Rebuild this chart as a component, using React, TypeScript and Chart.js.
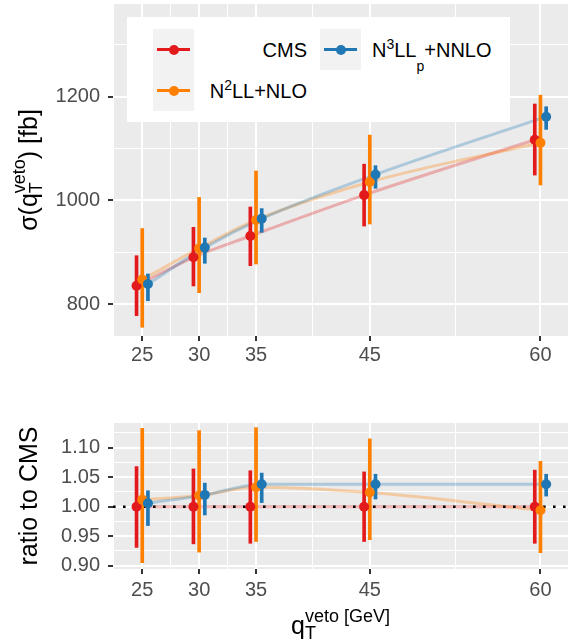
import React, { useEffect, useRef } from 'react';
import { Chart, registerables } from 'chart.js';

Chart.register(...registerables);

const FONT = "'Liberation Sans', Arimo, Arial, Helvetica, sans-serif";
Chart.defaults.font.family = FONT;

// ---------- data ----------
const qTveto = [25, 30, 35, 45, 60];
const xMajorTicks = [25, 30, 35, 45, 60];
const xMinorTicks = [22.5, 27.5, 32.5, 40, 52.5];
const xLimits = [22.43, 62.42];

const sigmaMajorTicks = [800, 1000, 1200];
const sigmaMinorTicks = [900, 1100, 1300];
const sigmaLimits = [738.9, 1378.6];

const ratioMajorTicks = [0.9, 0.95, 1.0, 1.05, 1.1];
const ratioMinorTicks = [0.925, 0.975, 1.025, 1.075, 1.125];
const ratioLimits = [0.8944, 1.1419];
const ratioReference = 1.0;

const seriesNames = ['CMS', 'N2LL+NLO', 'N3LLp+NNLO'];
const seriesColors = ['#E31A1C', '#FF7F00', '#1F78B4'];
const seriesLineColors = ['rgba(227,26,28,0.3)', 'rgba(255,127,0,0.3)', 'rgba(31,120,180,0.3)'];
const seriesDodge = [-0.5, 0, 0.5];

// cross sections [fb]
const cmsSigma = [835.8, 890.5, 931.6, 1010.4, 1117.0];
const cmsSigmaLo = [778.0, 835.3, 874.4, 950.7, 1049.0];
const cmsSigmaHi = [893.6, 948.3, 987.5, 1070.0, 1185.9];
const n2llSigma = [847.6, 907.7, 962.4, 1035.6, 1111.4];
const n2llSigmaLo = [755.7, 822.4, 877.6, 954.7, 1029.9];
const n2llSigmaHi = [946.0, 1006.0, 1056.8, 1126.0, 1203.0];
const n3llSigma = [839.0, 909.2, 965.0, 1050.0, 1161.5];
const n3llSigmaLo = [807.0, 879.0, 938.7, 1023.5, 1137.0];
const n3llSigmaHi = [858.4, 927.7, 984.4, 1067.0, 1180.7];

// ratios to CMS
const cmsRatio = [1.0, 1.0, 1.0, 1.0, 1.0];
const cmsRatioLo = [0.931, 0.937, 0.938, 0.941, 0.938];
const cmsRatioHi = [1.068, 1.064, 1.061, 1.059, 1.062];
const n2llRatio = [1.012, 1.019, 1.033, 1.024, 0.994];
const n2llRatioLo = [0.905, 0.923, 0.941, 0.944, 0.922];
const n2llRatioHi = [1.133, 1.129, 1.134, 1.115, 1.077];
const n3llRatio = [1.006, 1.02, 1.038, 1.038, 1.038];
const n3llRatioLo = [0.968, 0.986, 1.007, 1.013, 1.018];
const n3llRatioHi = [1.027, 1.04, 1.057, 1.055, 1.055];

// ---------- helpers ----------
const isIn = (arr: number[], v: number) => arr.some((a) => Math.abs(a - v) < 1e-9);

function buildDatasets(central: number[][], lower: number[][], upper: number[][], refFlag: boolean) {
  const ds: any[] = [];
  central.forEach((vals, s) => {
    ds.push({
      type: 'line',
      label: seriesNames[s] + ' line',
      data: qTveto.map((q, i) => ({ x: q + seriesDodge[s], y: vals[i] })),
      borderColor: seriesLineColors[s],
      borderWidth: 3,
      pointRadius: 0,
      fill: false,
      cubicInterpolationMode: 'monotone',
      order: 30 - s,
      refLineAfter: refFlag && s === central.length - 1,
    });
    ds.push({
      type: 'bar',
      label: seriesNames[s] + ' err',
      data: qTveto.map((q, i) => ({ x: q + seriesDodge[s], y: [lower[s][i], upper[s][i]] })),
      backgroundColor: seriesColors[s],
      borderWidth: 0,
      barThickness: 3,
      grouped: false,
      order: 20 - s,
    });
    ds.push({
      type: 'scatter',
      label: seriesNames[s],
      data: qTveto.map((q, i) => ({ x: q + seriesDodge[s], y: vals[i] })),
      pointRadius: 5,
      pointBackgroundColor: seriesColors[s],
      pointBorderWidth: 0,
      showLine: false,
      order: 10 - s,
    });
  });
  return ds;
}

function makeOptions(
  yLimits: number[],
  yMajor: number[],
  yMinor: number[],
  fmt: (v: number) => string,
  padTop: number,
  xAxisHeight: number,
  xLabelPad: number
) {
  const majorX = (c: any) => (c && c.tick ? isIn(xMajorTicks, c.tick.value) : true);
  const majorY = (c: any) => (c && c.tick ? isIn(yMajor, c.tick.value) : true);
  return {
    responsive: false,
    animation: false,
    events: [],
    layout: { autoPadding: false, padding: { top: padTop, left: 0, right: 0, bottom: 0 } },
    plugins: { legend: { display: false }, tooltip: { enabled: false } },
    scales: {
      x: {
        type: 'linear',
        min: xLimits[0],
        max: xLimits[1],
        offset: false,
        afterBuildTicks: (s: any) => {
          s.ticks = [...xMinorTicks, ...xMajorTicks].sort((a, b) => a - b).map((v) => ({ value: v }));
        },
        afterFit: (s: any) => {
          s.height = xAxisHeight;
          s.paddingLeft = 0;
          s.paddingRight = 0;
          s.paddingTop = 0;
          s.paddingBottom = 0;
        },
        ticks: {
          autoSkip: false,
          maxRotation: 0,
          minRotation: 0,
          padding: xLabelPad,
          color: '#4D4D4D',
          font: { family: FONT, size: 20 },
          callback: (v: number) => (isIn(xMajorTicks, v) ? String(v) : ''),
        },
        grid: {
          offset: false,
          color: '#FFFFFF',
          lineWidth: (c: any) => (majorX(c) ? 2 : 1),
          drawTicks: true,
          tickLength: 5,
          tickColor: (c: any) => (majorX(c) ? '#333333' : 'rgba(0,0,0,0)'),
          tickWidth: 2,
        },
        border: { display: false },
      },
      y: {
        type: 'linear',
        min: yLimits[0],
        max: yLimits[1],
        beginAtZero: false,
        afterBuildTicks: (s: any) => {
          s.ticks = [...yMinor, ...yMajor].sort((a, b) => a - b).map((v) => ({ value: v }));
        },
        afterFit: (s: any) => {
          s.width = 113;
          s.paddingLeft = 0;
          s.paddingRight = 0;
          s.paddingTop = 0;
          s.paddingBottom = 0;
        },
        ticks: {
          autoSkip: false,
          padding: 8,
          color: '#4D4D4D',
          font: { family: FONT, size: 20 },
          callback: (v: number) => (isIn(yMajor, v) ? fmt(v) : ''),
        },
        grid: {
          color: '#FFFFFF',
          lineWidth: (c: any) => (majorY(c) ? 2 : 1),
          drawTicks: true,
          tickLength: 5,
          tickColor: (c: any) => (majorY(c) ? '#333333' : 'rgba(0,0,0,0)'),
          tickWidth: 2,
        },
        border: { display: false },
      },
    },
  };
}

const panelBgPlugin = {
  id: 'panelBg',
  beforeDraw(chart: any) {
    const { ctx, chartArea } = chart;
    ctx.save();
    ctx.fillStyle = '#EBEBEB';
    ctx.fillRect(chartArea.left, chartArea.top, chartArea.right - chartArea.left, chartArea.bottom - chartArea.top);
    ctx.restore();
  },
};

const refLinePlugin = {
  id: 'refLine',
  afterDatasetDraw(chart: any, args: any) {
    const ds = chart.data.datasets[args.index];
    if (!ds || !ds.refLineAfter) return;
    const { ctx, chartArea } = chart;
    const y = chart.scales.y.getPixelForValue(ratioReference);
    ctx.save();
    ctx.strokeStyle = '#000000';
    ctx.lineWidth = 2.6;
    ctx.setLineDash([2.6, 7.4]);
    ctx.beginPath();
    ctx.moveTo(chartArea.left, y);
    ctx.lineTo(chartArea.right, y);
    ctx.stroke();
    ctx.restore();
  },
};

function PanelChart(props: { top: number; width: number; height: number; datasets: any[]; options: any; plugins: any[] }) {
  const ref = useRef<HTMLCanvasElement>(null);
  useEffect(() => {
    const chart = new Chart(ref.current as HTMLCanvasElement, {
      type: 'scatter',
      data: { datasets: props.datasets },
      options: props.options,
      plugins: props.plugins,
    } as any);
    return () => chart.destroy();
  }, []);
  return (
    <canvas
      ref={ref}
      width={props.width}
      height={props.height}
      style={{ position: 'absolute', left: 0, top: props.top, width: props.width, height: props.height }}
    />
  );
}

function Stack(props: { sup: string; sub: string; size: number; gap: number; raise: number }) {
  return (
    <span
      style={{
        display: 'inline-flex',
        flexDirection: 'column',
        alignItems: 'flex-start',
        fontSize: props.size,
        lineHeight: props.gap + 'px',
        position: 'relative',
        top: -props.raise,
        verticalAlign: 'baseline',
        whiteSpace: 'pre',
      }}
    >
      <span>{props.sup}</span>
      <span>{props.sub}</span>
    </span>
  );
}

function RotatedTitle(props: { baselineX: number; centerY: number; children: any }) {
  const W = 300;
  const baseFromTop = 21.16;
  return (
    <div
      style={{
        position: 'absolute',
        left: 0,
        top: 0,
        width: W,
        textAlign: 'center',
        fontFamily: FONT,
        fontSize: 25,
        lineHeight: '25px',
        color: '#000',
        whiteSpace: 'pre',
        transformOrigin: '0 0',
        transform: `translate(${props.baselineX - baseFromTop}px, ${props.centerY + W / 2}px) rotate(-90deg)`,
      }}
    >
      {props.children}
    </div>
  );
}

function LegendKey(props: { left: number; top: number; color: string }) {
  return (
    <div style={{ position: 'absolute', left: props.left, top: props.top, width: 41, height: 41, background: '#F2F2F2' }}>
      <div style={{ position: 'absolute', left: 4, top: 19, width: 33, height: 3, background: props.color }} />
      <div
        style={{ position: 'absolute', left: 15.5, top: 15.5, width: 10, height: 10, borderRadius: '50%', background: props.color }}
      />
    </div>
  );
}

const legendText: any = {
  position: 'absolute',
  fontFamily: FONT,
  fontSize: 20,
  lineHeight: '20px',
  color: '#000',
  whiteSpace: 'pre',
};
const supStyle: any = { fontSize: 14, lineHeight: 0, position: 'relative', top: -8 };
const subStyle: any = { fontSize: 14, lineHeight: 0, position: 'relative', top: 14 };

export default function App() {
  const topDatasets = buildDatasets(
    [cmsSigma, n2llSigma, n3llSigma],
    [cmsSigmaLo, n2llSigmaLo, n3llSigmaLo],
    [cmsSigmaHi, n2llSigmaHi, n3llSigmaHi],
    false
  );
  const bottomDatasets = buildDatasets(
    [cmsRatio, n2llRatio, n3llRatio],
    [cmsRatioLo, n2llRatioLo, n3llRatioLo],
    [cmsRatioHi, n2llRatioHi, n3llRatioHi],
    true
  );
  const topOptions = makeOptions(sigmaLimits, sigmaMajorTicks, sigmaMinorTicks, (v) => String(v), 4, 39, 2);
  const bottomOptions = makeOptions(ratioLimits, ratioMajorTicks, ratioMinorTicks, (v) => v.toFixed(2), 42, 74, 4);

  return (
    <div style={{ position: 'absolute', left: 0, top: 0, width: 568, height: 643, overflow: 'hidden', background: '#fff' }}>
      <PanelChart top={0} width={568} height={375} datasets={topDatasets} options={topOptions} plugins={[panelBgPlugin]} />
      <PanelChart
        top={381}
        width={568}
        height={262}
        datasets={bottomDatasets}
        options={bottomOptions}
        plugins={[panelBgPlugin, refLinePlugin]}
      />

      {/* legend */}
      <div style={{ position: 'absolute', left: 127, top: 17, width: 383, height: 105, background: '#FFFFFF' }} />
      <LegendKey left={153} top={29} color={seriesColors[0]} />
      <LegendKey left={153} top={70} color={seriesColors[1]} />
      <LegendKey left={320} top={29} color={seriesColors[2]} />
      <div style={{ ...legendText, left: 200, top: 40, width: 107, textAlign: 'right' }}>CMS</div>
      <div style={{ ...legendText, left: 180, top: 81, width: 127, textAlign: 'right' }}>
        N<span style={supStyle}>2</span>LL+NLO
      </div>
      <div style={{ ...legendText, left: 372, top: 40 }}>
        N<span style={supStyle}>3</span>LL<span style={subStyle}>p</span>+NNLO
      </div>

      {/* y titles */}
      <RotatedTitle baselineX={37} centerY={170}>
        σ(q<Stack sup="veto" sub="T" size={18} gap={17} raise={12} />) [fb]
      </RotatedTitle>
      <RotatedTitle baselineX={37} centerY={496}>
        ratio to CMS
      </RotatedTitle>

      {/* x title */}
      <div
        style={{
          position: 'absolute',
          left: 113,
          top: 612.8,
          width: 455,
          textAlign: 'center',
          fontFamily: FONT,
          fontSize: 25,
          lineHeight: '25px',
          color: '#000',
          whiteSpace: 'pre',
        }}
      >
        q<Stack sup="veto [GeV]" sub="T" size={18} gap={17} raise={12} />
      </div>
    </div>
  );
}
